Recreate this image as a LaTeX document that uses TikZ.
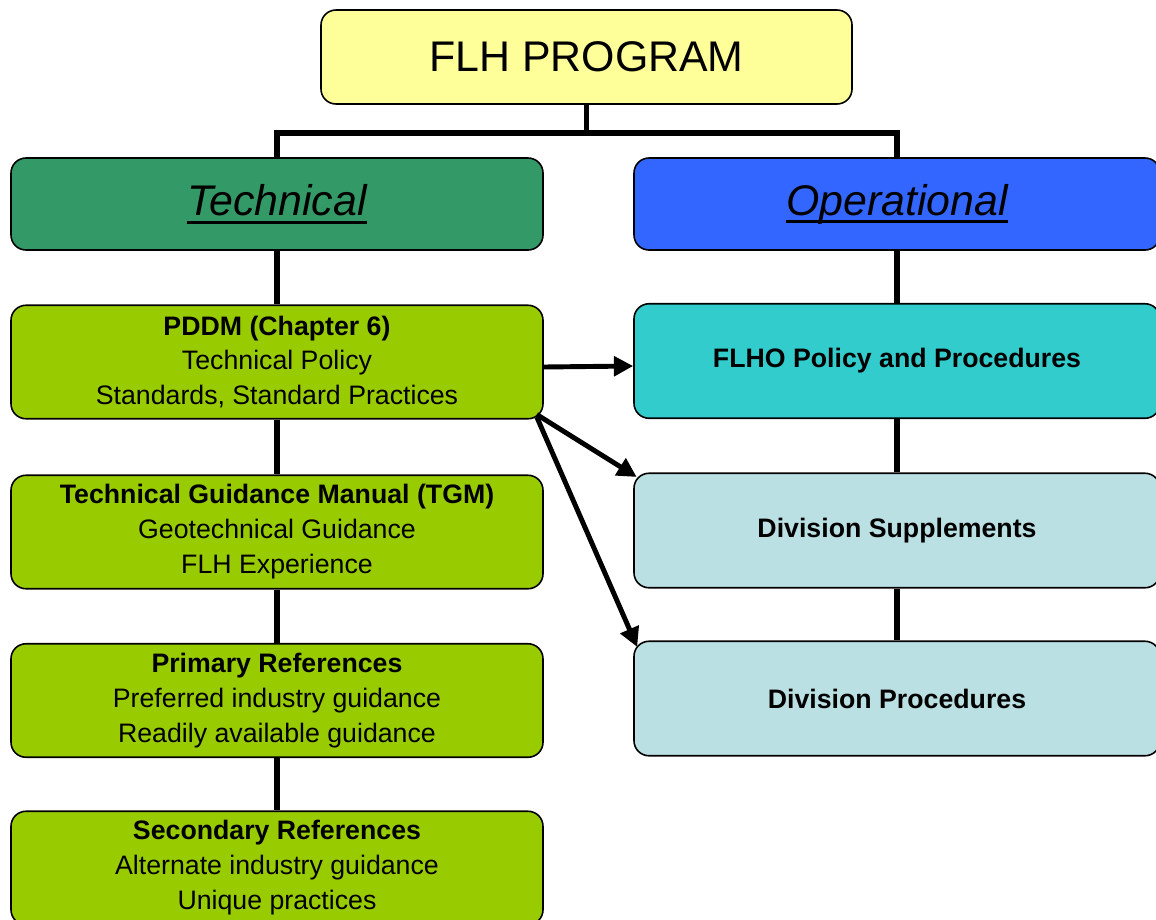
\documentclass[tikz,border=0pt]{standalone}
\usepackage{fontspec}
\setmainfont{Liberation Sans}
\usetikzlibrary{arrows.meta}
\definecolor{progyellow}{HTML}{FFFF99}
\definecolor{techgreen}{HTML}{339966}
\definecolor{operblue}{HTML}{3366FF}
\definecolor{leafgreen}{HTML}{99CC00}
\definecolor{opercyan}{HTML}{33CCCC}
\definecolor{operpale}{HTML}{BBE0E3}
\newcommand{\boxfont}{\fontsize{15.2}{19.9}\selectfont}
\newcommand{\headfont}{\fontsize{24.4}{28}\selectfont}
\newcommand{\headunder}[1]{{\setbox0\hbox{#1}\rlap{\rule[-0.16cm]{\wd0}{0.06cm}}\box0}}

\begin{document}
\begin{tikzpicture}[
    box/.style={draw, line width=0.9pt, rounded corners=0.3cm, align=center, inner sep=0pt},
    leftbox/.style={box, fill=leafgreen, minimum width=10.64cm, minimum height=2.27cm, font=\boxfont},
    rightbox/.style={box, minimum width=10.52cm, minimum height=2.29cm, font=\boxfont\bfseries},
    link/.style={line width=3pt},
    pointer/.style={line width=2.8pt, -{Triangle[length=11pt,width=11pt]}}
  ]
    \useasboundingbox (0,0) rectangle (23.12,-18.38);
    % top of the tree
    \node[box, fill=progyellow, minimum width=10.62cm, minimum height=1.88cm, font=\headfont] (prog) at (11.73,-1.14) {FLH PROGRAM};
    \node[box, fill=techgreen, minimum width=10.64cm, minimum height=1.84cm, font=\headfont\itshape] (tech) at (5.54,-4.08) {\headunder{Technical}};
    \node[box, fill=operblue, minimum width=10.52cm, minimum height=1.84cm, font=\headfont\itshape] (oper) at (17.94,-4.08) {\headunder{Operational}};
    % technical column
    \node[leftbox] (pddm) at (5.54,-7.24) {\textbf{PDDM (Chapter 6)}\\Technical Policy\\Standards, Standard Practices};
    \node[leftbox] (tgm) at (5.54,-10.64) {\textbf{Technical Guidance Manual (TGM)}\\Geotechnical Guidance\\FLH Experience};
    \node[leftbox] (prim) at (5.54,-14.01) {\textbf{Primary References}\\Preferred industry guidance\\Readily available guidance};
    \node[leftbox] (sec) at (5.54,-17.36) {\textbf{Secondary References}\\Alternate industry guidance\\Unique practices};
    % operational column
    \node[rightbox, fill=opercyan] (flho) at (17.94,-7.22) {FLHO Policy and Procedures};
    \node[rightbox, fill=operpale] (dsup) at (17.94,-10.61) {Division Supplements};
    \node[rightbox, fill=operpale] (dproc) at (17.94,-13.97) {Division Procedures};
    %\draw[link] (prog) -- (tech);
    \coordinate (split) at (11.73,-2.66);
    \draw[link] (prog.south) -- (split);
    \draw[link] (tech.north) |- (split) -| (oper.north);
    \draw[link] (tech) -- (pddm);
    \draw[link] (pddm) -- (tgm);
    \draw[link] (tgm) -- (prim);
    \draw[link] (prim) -- (sec);
    \draw[link] (oper) -- (flho);
    \draw[link] (flho) -- (dsup);
    \draw[link] (dsup) -- (dproc);
    \draw[pointer] ([yshift=-0.1cm]pddm.east) -- ([yshift=-0.1cm]flho.west);
    \draw[pointer] ([shift={(-0.14,0.1)}]pddm.south east) -- ([shift={(0.07,-0.09)}]dsup.north west);
    \draw[pointer] ([shift={(-0.14,0.05)}]pddm.south east) -- ([shift={(0.08,-0.13)}]dproc.north west);
\end{tikzpicture}
\end{document}
